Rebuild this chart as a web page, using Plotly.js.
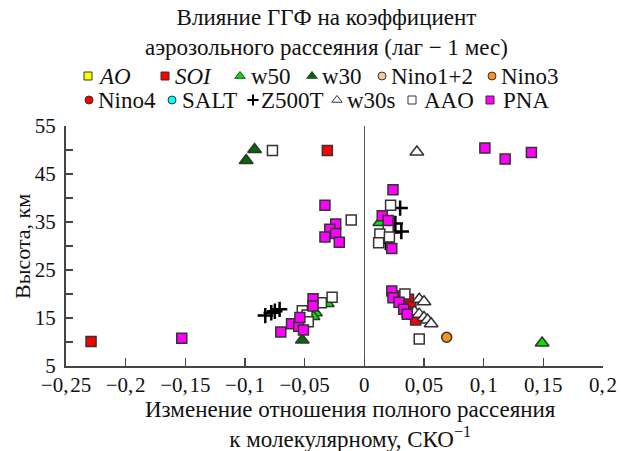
<!DOCTYPE html>
<html><head><meta charset="utf-8">
<script src="https://cdn.plot.ly/plotly-3.0.1.min.js"></script>
<style>html,body{margin:0;padding:0;background:#fff}</style>
</head><body><div id="chart" style="width:622px;height:451px"></div>
<script>
// ---- data (x: change of ratio, SD^-1; y: altitude, km) ----
const aoX = [];  const aoY = [];
const soiX = [-0.229, -0.031, 0.031, 0.037, 0.039, 0.036, 0.043];
const soiY = [10.1, 49.9, 19.6, 18.9, 17.4, 16.2, 14.6];
const w50X = [-0.041, -0.031, -0.043, 0.013, 0.149];
const w50Y = [16.1, 18.0, 15.3, 34.9, 9.8];
const w30X = [-0.092, -0.099, -0.052];
const w30Y = [50.1, 47.8, 10.4];
const nino12X = []; const nino12Y = [];
const nino3X = [0.069]; const nino3Y = [11.0];
const nino4X = []; const nino4Y = [];
const saltX = []; const saltY = [];
const z500tX = [-0.083, -0.078, -0.075, -0.071, 0.030, 0.026, 0.031, 0.024, 0.018];
const z500tY = [15.5, 16.1, 16.4, 16.8, 37.9, 34.7, 33.0, 32.8, 30.7];
const w30sX = [0.044, 0.046, 0.050, 0.042, 0.046, 0.050, 0.053, 0.056];
const w30sY = [49.6, 18.9, 18.4, 16.3, 15.8, 15.1, 14.6, 13.8];
const aaoX = [-0.077, -0.011, 0.022, 0.020, 0.013, 0.021, 0.012, -0.036, -0.027, -0.052, -0.048, -0.047, 0.034, 0.046];
const aaoY = [49.9, 35.4, 38.5, 33.3, 32.5, 31.9, 30.7, 18.2, 19.3, 16.5, 15.6, 14.2, 20.0, 10.6];
const pnaX = [-0.153, -0.033, -0.024, -0.029, -0.024, -0.033, -0.021,
              -0.070, -0.061, -0.055, -0.054, -0.051, -0.043, -0.043,
              0.024, 0.015, 0.020, 0.023,
              0.023, 0.024, 0.029, 0.033, 0.036,
              0.101, 0.118, 0.140];
const pnaY = [10.8, 38.5, 34.6, 33.5, 32.6, 31.9, 30.8,
              12.1, 13.8, 13.3, 15.1, 12.5, 19.0, 17.5,
              41.7, 36.3, 35.3, 29.5,
              20.6, 19.2, 18.3, 16.8, 15.8,
              50.4, 48.1, 49.5];

const seriesNames = ['<i>AO</i>', '<i>SOI</i>', 'w50', 'w30', 'Nino1+2', 'Nino3',
                     'Nino4', 'SALT', 'Z500T', 'w30s', 'AAO', 'PNA'];
const xTickVals = [-0.25, -0.2, -0.15, -0.1, -0.05, 0, 0.05, 0.1, 0.15, 0.2];
const xTickText = ['−0,\u200A25', '−0,\u200A2', '−0,\u200A15', '−0,\u200A1', '−0,\u200A05', '0',
                   '0,\u200A05', '0,\u200A1', '0,\u200A15', '0,\u200A2'];

// ---- styles ----
const EDGE = '#333';
const styles = [
  {sym: 'square', color: '#ffff00'},
  {sym: 'square', color: '#ff0000'},
  {sym: 'triangle-up', color: '#00e600'},
  {sym: 'triangle-up', color: '#006b00'},
  {sym: 'circle', color: '#f9c89b'},
  {sym: 'circle', color: '#f7941d'},
  {sym: 'circle', color: '#ff0000'},
  {sym: 'circle', color: '#00ffff'},
  {sym: 'cross-thin', color: '#000'},
  {sym: 'triangle-up', color: '#ffffff'},
  {sym: 'square', color: '#ffffff'},
  {sym: 'square', color: '#ff00ff'}
];
const data = [[aoX, aoY], [soiX, soiY], [w50X, w50Y], [w30X, w30Y], [nino12X, nino12Y], [nino3X, nino3Y],
              [nino4X, nino4Y], [saltX, saltY], [z500tX, z500tY], [w30sX, w30sY], [aaoX, aaoY], [pnaX, pnaY]];

function markerFor(st, big) {
  if (st.sym === 'cross-thin') {
    return {symbol: 'cross-thin', size: big ? 11 : 8, line: {color: '#000', width: big ? 2.5 : 2}};
  }
  let size = st.sym === 'triangle-up' ? (big ? 12 : 9) : (big ? 10 : 8);
  return {symbol: st.sym, size: size, color: st.color, line: {color: EDGE, width: big ? 1.5 : 1}};
}

const traces = data.map((d, i) => ({
  type: 'scatter', mode: 'markers', x: d[0], y: d[1], name: seriesNames[i],
  marker: markerFor(styles[i], true), showlegend: false, hoverinfo: 'x+y',
  xaxis: 'x', yaxis: 'y'
}));

// ---- manual legend (positions in figure pixels via overlay axes) ----
const legMarkX = [88, 165, 240, 312, 382, 492, 89, 172, 253, 337, 412, 490];
const legTextX = [96, 173, 249, 320, 389, 499, 96, 180, 259, 345, 422, 501];
const legRowY = [76, 100];
const annotations = [];
seriesNames.forEach((nm, i) => {
  const ly = legRowY[i < 6 ? 0 : 1];
  traces.push({type: 'scatter', mode: 'markers', x: [legMarkX[i]], y: [ly], xaxis: 'x2', yaxis: 'y2',
    marker: markerFor(styles[i], false), showlegend: false, hoverinfo: 'skip'});
  annotations.push({xref: 'x2', yref: 'y2', x: legTextX[i], y: ly, xanchor: 'left', yanchor: 'middle',
    text: nm, showarrow: false, font: {family: 'Liberation Serif', size: 23, color: '#111'}});
});

const FONT = {family: 'Liberation Serif', size: 22, color: '#111'};
const TICKFONT = {family: 'Liberation Serif', size: 21, color: '#111'};
annotations.push({xref: 'paper', yref: 'paper', x: 0.5307, y: -0.19, xanchor: 'center', yanchor: 'middle',
  text: 'Изменение отношения полного рассеяния<br>к молекулярному, СКО<sup>−1</sup>', showarrow: false,
  font: {family: 'Liberation Serif', size: 23, color: '#111'}});
annotations.push({xref: 'paper', yref: 'paper', x: -0.082, y: 0.392, xanchor: 'center', yanchor: 'middle',
  text: 'Высота, км', textangle: -90, showarrow: false, font: {family: 'Liberation Serif', size: 22, color: '#111'}});
annotations.push({xref: 'paper', yref: 'paper', x: (326 - 66) / 537, y: (366 - 32) / 306, xanchor: 'center', yanchor: 'middle',
  text: 'Влияние ГГФ на коэффициент<br>аэрозольного рассеяния (лаг − 1 мес)', showarrow: false,
  font: {family: 'Liberation Serif', size: 23, color: '#111'}});

const layout = {
  width: 622, height: 451,
  margin: {l: 66, r: 19, t: 60, b: 85},
  paper_bgcolor: '#fff', plot_bgcolor: '#fff',
  font: FONT,
  xaxis: {range: [-0.25, 0.2], domain: [0, 1], anchor: 'y', tickvals: xTickVals, ticktext: xTickText,
    ticks: 'inside', ticklen: 8, tickwidth: 1.5, tickcolor: '#444', showgrid: false,
    showline: true, linecolor: '#444', linewidth: 2, zeroline: true, zerolinecolor: '#555', zerolinewidth: 1.5,
    ticklabelstandoff: -1, tickfont: TICKFONT},
  yaxis: {range: [5, 55], domain: [0, 0.7843], anchor: 'x', tick0: 5, dtick: 10,
    ticks: 'inside', ticklen: 7, tickwidth: 1.5, tickcolor: '#444', showgrid: false,
    minor: {dtick: 5, tick0: 5, ticks: 'inside', ticklen: 7, tickwidth: 1.5, tickcolor: '#444', showgrid: false},
    showline: true, linecolor: '#444', linewidth: 2, zeroline: false, ticklabelstandoff: 4, tickfont: TICKFONT},
  xaxis2: {range: [66, 603], domain: [0, 1], anchor: 'y2', visible: false, fixedrange: true},
  yaxis2: {range: [126, 60], domain: [0.7843, 1], anchor: 'x2', visible: false, fixedrange: true},
  annotations: annotations,
  showlegend: false
};

Plotly.newPlot('chart', traces, layout, {staticPlot: true});
</script></body></html>
